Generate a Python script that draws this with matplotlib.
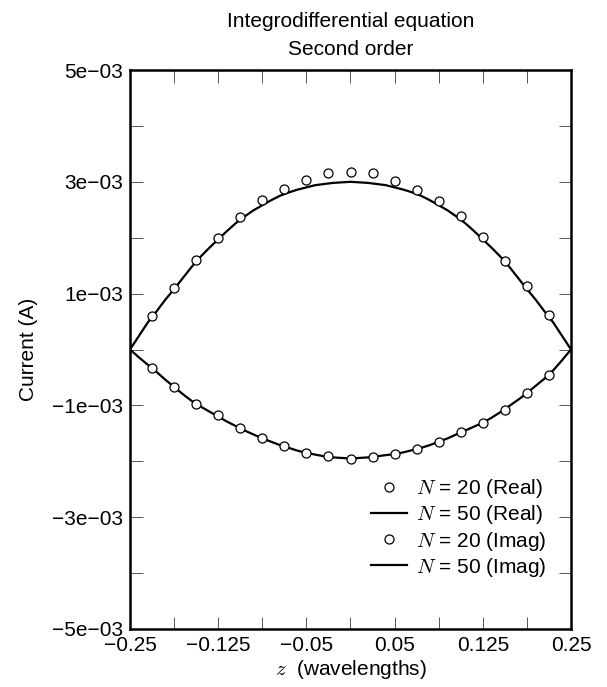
import matplotlib
matplotlib.use("Agg")
import matplotlib.pyplot as plt
import numpy as np

plt.rcParams['font.family'] = ['Liberation Sans', 'DejaVu Sans']
plt.rcParams['mathtext.fontset'] = 'cm'

# N = 20 solution, interior points (z = -0.225 ... 0.225)
z20 = [-0.225, -0.2, -0.175, -0.15, -0.125, -0.1, -0.075, -0.05, -0.025, 0.0,
       0.025, 0.05, 0.075, 0.1, 0.125, 0.15, 0.175, 0.2, 0.225]
real20 = [0.60, 1.10, 1.61, 2.00, 2.37, 2.68, 2.88, 3.04, 3.15, 3.18,
          3.15, 3.01, 2.86, 2.65, 2.38, 2.02, 1.59, 1.13, 0.62]
imag20 = [-0.33, -0.67, -0.97, -1.18, -1.41, -1.59, -1.73, -1.85, -1.91, -1.95,
          -1.92, -1.87, -1.78, -1.65, -1.48, -1.32, -1.08, -0.78, -0.45]

# N = 50 solution (z = -0.25 ... 0.25, step 0.01)
z50 = [-0.25, -0.24, -0.23, -0.22, -0.21, -0.20, -0.19, -0.18, -0.17, -0.16,
       -0.15, -0.14, -0.13, -0.12, -0.11, -0.10, -0.09, -0.08, -0.07, -0.06,
       -0.05, -0.04, -0.03, -0.02, -0.01, 0.0, 0.01, 0.02, 0.03, 0.04,
       0.05, 0.06, 0.07, 0.08, 0.09, 0.10, 0.11, 0.12, 0.13, 0.14,
       0.15, 0.16, 0.17, 0.18, 0.19, 0.20, 0.21, 0.22, 0.23, 0.24, 0.25]
real50 = [0.00, 0.24, 0.48, 0.68, 0.89, 1.08, 1.28, 1.48, 1.66, 1.82,
          1.97, 2.12, 2.26, 2.38, 2.49, 2.58, 2.67, 2.75, 2.81, 2.86,
          2.90, 2.94, 2.96, 2.98, 2.99, 3.00, 2.99, 2.98, 2.96, 2.94,
          2.90, 2.86, 2.81, 2.75, 2.67, 2.58, 2.49, 2.38, 2.26, 2.12,
          1.97, 1.82, 1.66, 1.48, 1.28, 1.08, 0.89, 0.68, 0.48, 0.24, 0.00]
imag50 = [0.00, -0.14, -0.27, -0.40, -0.54, -0.67, -0.80, -0.92, -1.02, -1.11,
          -1.20, -1.29, -1.37, -1.45, -1.52, -1.59, -1.65, -1.71, -1.76, -1.81,
          -1.85, -1.88, -1.91, -1.93, -1.94, -1.95, -1.94, -1.93, -1.91, -1.89,
          -1.87, -1.84, -1.80, -1.76, -1.71, -1.65, -1.59, -1.52, -1.45, -1.38,
          -1.31, -1.22, -1.12, -1.01, -0.90, -0.78, -0.65, -0.52, -0.37, -0.19, 0.00]

xtick_pos = [-0.25, -0.15, -0.05, 0.05, 0.15, 0.25]
xtick_lab = ['\u22120.25', '\u22120.125', '\u22120.05', '0.05', '0.125', '0.25']
ytick_pos = [-5e-3, -3e-3, -1e-3, 1e-3, 3e-3, 5e-3]
ytick_lab = ['\u22125e\u221203', '\u22123e\u221203', '\u22121e\u221203',
             '1e\u221203', '3e\u221203', '5e\u221203']

scale = 1e-3
fs = 15
fig = plt.figure(figsize=(6.07, 6.87), dpi=100)
ax = fig.add_axes([130 / 607, 1 - 629 / 687, 441 / 607, 559 / 687])

ax.plot(z20, np.array(real20) * scale, 'o', ms=6.5, mfc='white', mec='black',
        mew=0.9, zorder=4, label='$N$ = 20 (Real)')
ax.plot(z50, np.array(real50) * scale, '-', color='black', lw=1.6, zorder=3,
        label='$N$ = 50 (Real)')
ax.plot(z20, np.array(imag20) * scale, 'o', ms=6.5, mfc='white', mec='black',
        mew=0.9, zorder=4, label='$N$ = 20 (Imag)')
ax.plot(z50, np.array(imag50) * scale, '-', color='black', lw=1.6, zorder=3,
        label='$N$ = 50 (Imag)')

ax.set_xlim(-0.25, 0.25)
ax.set_ylim(-5e-3, 5e-3)
ax.set_xticks(np.arange(-0.25, 0.2501, 0.05), minor=True)
ax.set_yticks(np.arange(-5e-3, 5.01e-3, 1e-3), minor=True)
ax.set_xticks(xtick_pos)
ax.set_xticklabels(xtick_lab)
ax.set_yticks(ytick_pos)
ax.set_yticklabels(ytick_lab)
ax.tick_params(which='both', direction='in', top=True, right=True,
               length=9, width=0.7, color='#555555', labelsize=fs, pad=5)

for s in ax.spines.values():
    s.set_linewidth(1.8)

ax.set_title('Integrodifferential equation\nSecond order', fontsize=fs,
             linespacing=1.55, pad=11)
ax.set_xlabel('$z$  (wavelengths)', fontsize=fs, labelpad=2)
ax.set_ylabel('Current (A)', fontsize=fs, labelpad=10)

leg = ax.legend(loc='lower right', bbox_to_anchor=(0.945, 0.09), frameon=False,
                fontsize=fs, handlelength=1.7, handletextpad=0.45,
                labelspacing=0.15, borderaxespad=0, borderpad=0)

fig.savefig('out.png', dpi=100)
